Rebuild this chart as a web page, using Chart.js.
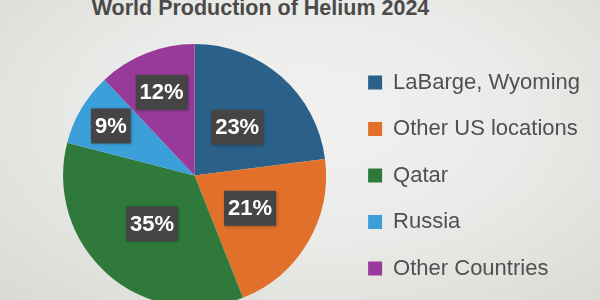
<!DOCTYPE html>
<html>
<head>
<meta charset="utf-8">
<script src="https://cdn.jsdelivr.net/npm/chart.js@4.4.1/dist/chart.umd.min.js"></script>
<style>
  html, body { margin: 0; padding: 0; width: 600px; height: 300px; overflow: hidden; }
  body {
    position: relative;
    background: radial-gradient(ellipse at 52% 40%, #f1f1ef 0%, #ebebe9 45%, #d9d9d5 100%);
    font-family: "Liberation Sans", Arial, sans-serif;
  }
  #title {
    position: absolute; left: 0; width: 521px; top: -4px;
    text-align: center; font-weight: bold; font-size: 21.5px; color: #4a4a4a;
    white-space: nowrap;
  }
  #wrap { position: absolute; left: 0; top: -20px; width: 600px; height: 340px; }
</style>
</head>
<body>
<div id="title">World Production of Helium 2024</div>
<div id="wrap"><canvas id="helium_chart"></canvas></div>
<script>
var sources = ['LaBarge, Wyoming', 'Other US locations', 'Qatar', 'Russia', 'Other Countries'];
var shares = [23, 21, 35, 9, 12];
var colours = ['#2b6189', '#e0702a', '#2f7a3b', '#3b9fd9', '#983a99'];

// draws the dark "23%" boxes on top of each slice
var sliceLabels = {
  id: 'sliceLabels',
  afterDatasetsDraw: function(chart) {
    var ctx = chart.ctx;
    var meta = chart.getDatasetMeta(0);
    ctx.save();
    ctx.font = 'bold 22px "Liberation Sans", Arial, sans-serif';
    ctx.textAlign = 'center';
    ctx.textBaseline = 'middle';
    meta.data.forEach(function(arc, i) {
      var val = chart.data.datasets[0].data[i];
      var p = arc.getProps(['startAngle', 'endAngle', 'outerRadius', 'x', 'y'], true);
      var mid = (p.startAngle + p.endAngle) / 2;
      // small slices get their label pushed outwards
      var k = 0.49;
      if (val < 15) k = 0.68;
      if (val < 10) k = 0.74;
      var r = p.outerRadius * k;
      var x = p.x + Math.cos(mid) * r;
      var y = p.y + Math.sin(mid) * r;
      var txt = val + '%';
      var w = ctx.measureText(txt).width + 8;
      var h = 35;
      ctx.shadowColor = 'rgba(0,0,0,0.35)';
      ctx.shadowBlur = 3;
      ctx.shadowOffsetX = 1;
      ctx.shadowOffsetY = 1;
      ctx.fillStyle = '#454545';
      ctx.fillRect(x - w / 2, y - h / 2, w, h);
      ctx.shadowColor = 'rgba(0,0,0,0)';
      ctx.fillStyle = '#ffffff';
      ctx.fillText(txt, x, y + 1);
    });
    ctx.restore();
  }
};

var pieChart = new Chart(document.getElementById('helium_chart'), {
  type: 'pie',
  data: {
    labels: sources,
    datasets: [{
      data: shares,
      backgroundColor: colours,
      borderWidth: 0,
      hoverOffset: 0
    }]
  },
  options: {
    responsive: true,
    maintainAspectRatio: false,
    animation: false,
    layout: { padding: { left: 45.5, right: 10, top: 64, bottom: 13 } },
    plugins: {
      tooltip: { enabled: false },
      legend: {
        position: 'right',
        labels: {
          boxWidth: 14,
          boxHeight: 14,
          padding: 24.5,
          color: '#505050',
          font: { family: '"Liberation Sans", Arial, sans-serif', size: 22 }
        }
      }
    }
  },
  plugins: [sliceLabels]
});
</script>
</body>
</html>
